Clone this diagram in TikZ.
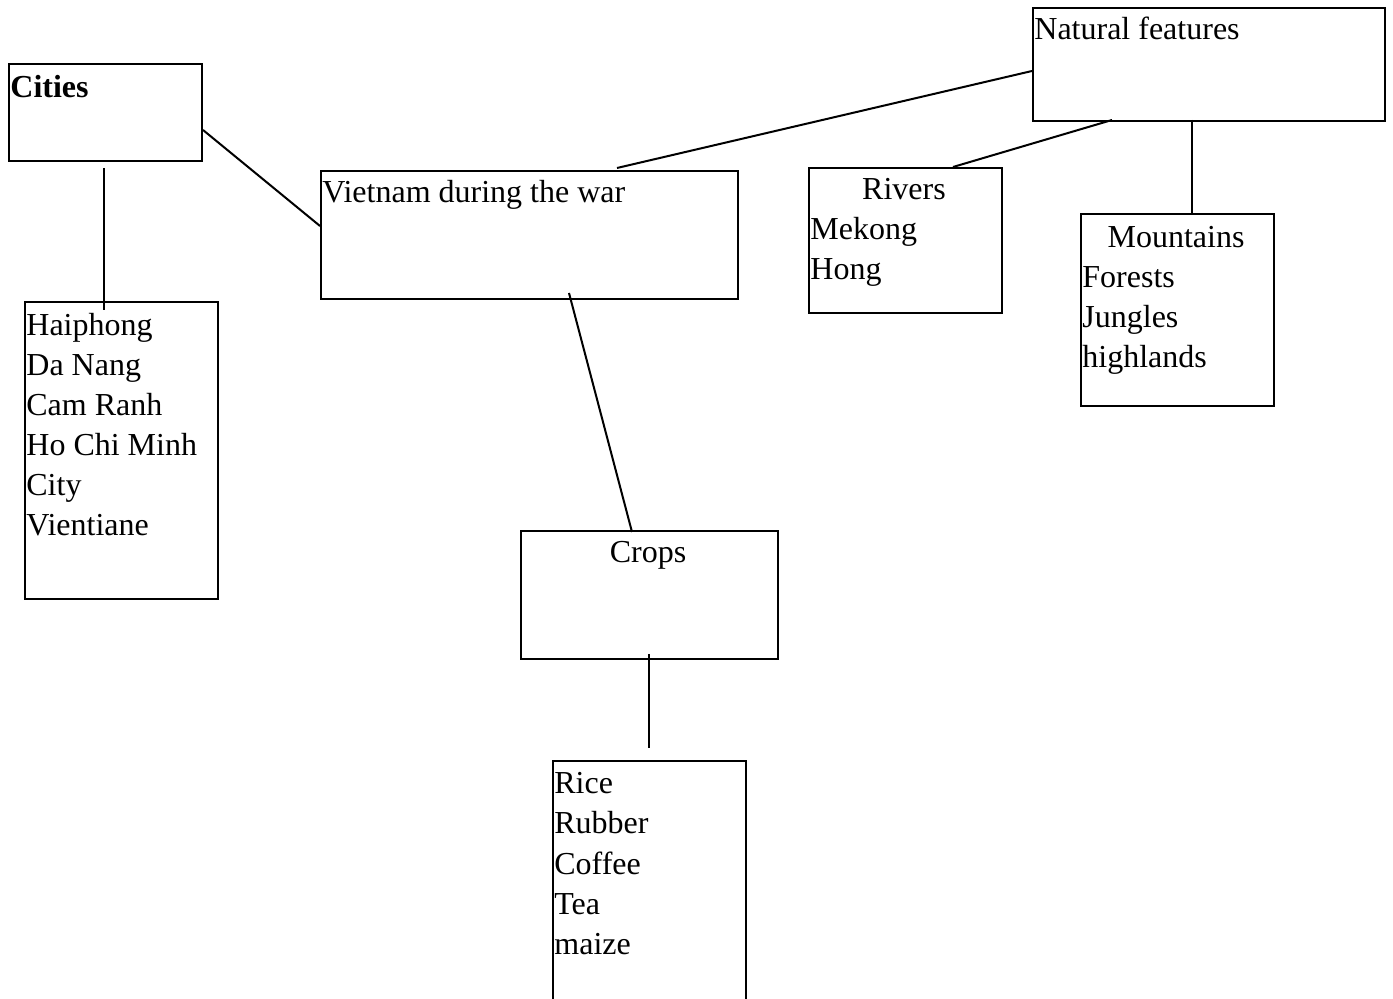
\documentclass[tikz,border=0pt]{standalone}
\usepackage{fontspec}
\setmainfont{Liberation Serif}
\begin{document}
\begin{tikzpicture}[x=0.5pt,y=-0.5pt,
  box/.style={draw,line width=1pt,rectangle,inner sep=0pt,anchor=north west},
  txt/.style={anchor=base west,inner sep=0pt,font=\fontsize{16}{20}\selectfont},
  ctxt/.style={anchor=base,inner sep=0pt,font=\fontsize{16}{20}\selectfont},
  link/.style={line width=1pt}]
\useasboundingbox (0,0) rectangle (1393,999);
\clip (0,0) rectangle (1393,999);
% boxes
\node[box,minimum width=96.5pt,minimum height=48.5pt] (cities) at (8,63) {};
\node[box,minimum width=96.5pt,minimum height=148.5pt] (citylist) at (24,301) {};
\node[box,minimum width=208.5pt,minimum height=64pt] (vietnam) at (320,170) {};
\node[box,minimum width=176pt,minimum height=56.5pt] (natural) at (1032,7) {};
\node[box,minimum width=96.5pt,minimum height=72.5pt] (rivers) at (808,167) {};
\node[box,minimum width=96.5pt,minimum height=96pt] (mountains) at (1080,213) {};
\node[box,minimum width=128.5pt,minimum height=64pt] (crops) at (520,530) {};
\node[box,minimum width=96.5pt,minimum height=130pt] (croplist) at (552,760) {};
% texts
\node[txt,font=\fontsize{16}{20}\selectfont\bfseries] (tcities) at (10,98) {Cities};
\node[txt] (t1) at (26,336) {Haiphong};
\node[txt] (t2) at (26,376) {Da Nang};
\node[txt] (t3) at (26,416) {Cam Ranh};
\node[txt] (t4) at (26,456) {Ho Chi Minh};
\node[txt] (t5) at (26,496) {City};
\node[txt] (t6) at (26,536) {Vientiane};
\node[txt] (tviet) at (322,203) {Vietnam during the war};
\node[txt] (tnat) at (1034,40) {Natural features};
\node[ctxt] (triv) at (904,200) {Rivers};
\node[txt] (tmek) at (810,240) {Mekong};
\node[txt] (thong) at (810,280) {Hong};
\node[ctxt] (tmou) at (1176,248) {Mountains};
\node[txt] (tfor) at (1082,288) {Forests};
\node[txt] (tjun) at (1082,328) {Jungles};
\node[txt] (thig) at (1082,368) {highlands};
\node[ctxt] (tcrops) at (648,563) {Crops};
\node[txt] (c1) at (554,794) {Rice};
\node[txt] (c2) at (554,834) {Rubber};
\node[txt] (c3) at (554,874) {Coffee};
\node[txt] (c4) at (554,914) {Tea};
\node[txt] (c5) at (554,954) {maize};
% connector end points
\coordinate (a1) at (203,130);
\coordinate (a2) at (320,226);
\coordinate (b1) at (104,168);
\coordinate (b2) at (104,310);
\coordinate (c1p) at (617,168);
\coordinate (c2p) at (1032,71);
\coordinate (d1) at (1112,120);
\coordinate (d2) at (953,167);
\coordinate (e1) at (1192,120);
\coordinate (e2) at (1192,215);
\coordinate (f1) at (569,293);
\coordinate (f2) at (632,532);
\coordinate (g1) at (649,654);
\coordinate (g2) at (649,748);
% connectors
\draw[link] (a1) -- (a2);
\draw[link] (b1) -- (b2);
\draw[link] (c1p) -- (c2p);
\draw[link] (d1) -- (d2);
\draw[link] (e1) -- (e2);
\draw[link] (f1) -- (f2);
\draw[link] (g1) -- (g2);
\end{tikzpicture}
\end{document}
